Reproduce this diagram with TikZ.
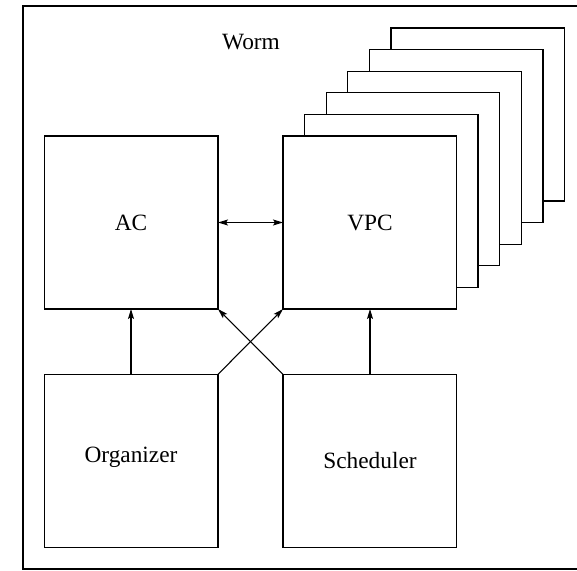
\documentclass[tikz,border=0pt]{standalone}
\usepackage{fontspec}
\setmainfont{Liberation Serif}
\usetikzlibrary{arrows.meta}
\begin{document}
\begin{tikzpicture}[x=0.75pt,y=-0.75pt,
  label/.style={font=\fontsize{17.5}{20}\selectfont},
  flow/.style={line width=0.8pt,-{Stealth[length=7.5pt,width=4.5pt,inset=1.5pt]}},
  both/.style={line width=0.8pt,{Stealth[length=7.5pt,width=4.5pt,inset=1.5pt]}-{Stealth[length=7.5pt,width=4.5pt,inset=1.5pt]}},
  layer/.style={draw=black,fill=white,line width=1pt}]
  \useasboundingbox (0,0) rectangle (577,570);
  % outer frame of the worm
  \draw[line width=1.4pt] (580,5.7) -- (22.7,5.7) -- (22.7,569.3) -- (580,569.3);
  \node[label] (worm) at (251,42) {Worm};
  % stacked copies behind the VPC, back to front
  \draw[layer] (391,28) rectangle (564.5,201);
  \draw[layer] (369.4,49.6) rectangle (542.9,222.6);
  \draw[layer] (347.8,71.2) rectangle (521.3,244.2);
  \draw[layer] (326.2,92.8) rectangle (499.7,265.8);
  \draw[layer] (304.6,114.4) rectangle (478.1,287.4);
  % main components
  \draw[layer] (44.3,136) rectangle (218,309);
  \node[label] (ac) at (131,222.5) {AC};
  \draw[layer] (283,136) rectangle (456.5,309);
  \node[label] (vpc) at (370,222.5) {VPC};
  \draw[layer] (44.3,374.3) rectangle (218,547.7);
  \node[label] (org) at (131,457) {Organizer};
  \draw[layer] (283,374.3) rectangle (456.5,547.7);
  \node[label] (sch) at (370,461) {Scheduler};
  % anchor points on the box edges
  \coordinate (acR) at (218,222.5);
  \coordinate (vpcL) at (283,222.5);
  \coordinate (acB) at (131,309);
  \coordinate (acBR) at (218,309);
  \coordinate (vpcB) at (370,309);
  \coordinate (vpcBL) at (283,309);
  \coordinate (orgT) at (131,374.3);
  \coordinate (orgTR) at (218,374.3);
  \coordinate (schT) at (370,374.3);
  \coordinate (schTL) at (283,374.3);
  % connectors
  \draw[both] (acR) -- (vpcL);
  \draw[flow] (orgT) -- (acB);
  \draw[flow] (schT) -- (vpcB);
  \draw[flow] (orgTR) -- (vpcBL);
  \draw[flow] (schTL) -- (acBR);
\end{tikzpicture}
\end{document}
